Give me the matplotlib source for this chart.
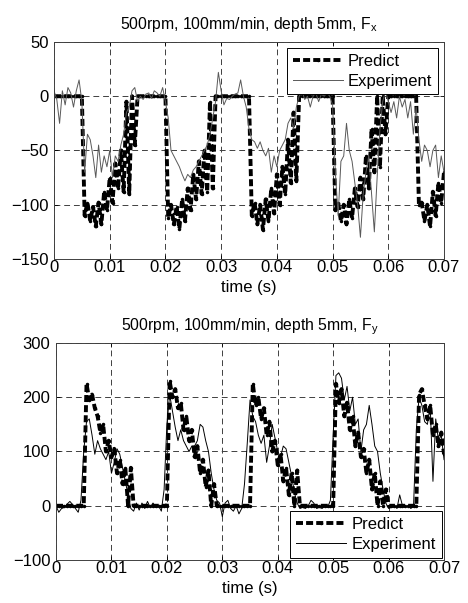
import numpy as np
import matplotlib
matplotlib.use("Agg")
import matplotlib.pyplot as plt

plt.rcParams['font.family'] = ['Liberation Sans', 'DejaVu Sans']
plt.rcParams['mathtext.default'] = 'regular'

# sample times (s), 0.5 ms spacing
time_s = np.round(np.arange(0, 141) * 0.0005, 6)

fx_predict = [
    0, 0, 0, 0, 0, 0, 0, 0, 0, 0,
    0, -110, -98, -115, -102, -120, -98, -118, -88, -105,
    -75, -98, -62, -85, -50, -88, -5, -90, 0, -45,
    0, 0, 0, 0, 0, 0, 0, 0, 0, 0,
    0, -112, -100, -118, -102, -122, -95, -115, -85, -105,
    -72, -95, -60, -90, -50, -88, -5, -85, 0, 0,
    0, 0, 0, 0, 0, 0, 0, 0, 0, 0,
    0, -110, -98, -118, -100, -123, -95, -115, -85, -108,
    -72, -100, -65, -90, -40, -80, -15, -78, 0, 0,
    0, 0, 0, 0, 0, 0, 0, 0, 0, 0,
    0, -105, -98, -115, -100, -118, -95, -112, -85, -102,
    -75, -95, -55, -85, -30, -70, 0, -65, 0, -35,
    0, 0, 0, 0, 0, 0, 0, 0, 0, 0,
    0, -100, -98, -115, -100, -120, -88, -110, -80, -98,
    -70]

fx_experiment = [
    5, -3, -25, 5, -8, 8, 3, -10, 5, 15,
    -5, -70, -35, -40, -55, -75, -45, -70, -55, -65,
    -50, -75, -55, -60, -45, -35, -15, -10, 5, 8,
    -5, 0, -3, 2, 3, -2, 5, 3, 0, 8,
    -5, -20, -50, -55, -60, -65, -72, -78, -72, -75,
    -68, -65, -60, -55, -50, -45, -35, -20, -5, 22,
    5, -8, -2, -3, 0, 2, 3, 15, 0, -10,
    -30, -40, -42, -48, -42, -50, -55, -48, -70, -55,
    -65, -50, -45, -40, -25, -20, -30, -10, 0, 5,
    -3, 0, -10, 0, 3, -5, 2, 0, 3, 0,
    -8, -70, -110, -60, -55, -25, -50, -60, -80, -100,
    -130, -90, -70, -55, -90, -125, -75, -30, -5, 5,
    -5, -15, -5, -20, 0, -10, -3, -20, -5, -35,
    -10, -40, -60, -45, -50, -65, -50, -45, -75, -55,
    -70]

fy_predict = [
    0, 0, 0, 0, 0, 0, 0, 0, 0, 0,
    0, 225, 195, 205, 180, 165, 135, 150, 100, 120,
    90, 105, 60, 85, 40, 70, 0, 70, 0, 0,
    0, 0, 0, 0, 0, 0, 0, 0, 0, 0,
    0, 230, 200, 215, 180, 190, 140, 165, 120, 140,
    90, 110, 60, 85, 35, 65, 0, 40, 0, 0,
    0, 0, 0, 0, 0, 0, 0, 0, 0, 0,
    0, 225, 185, 200, 160, 180, 130, 155, 100, 120,
    75, 95, 45, 70, 20, 60, 0, 65, 0, 0,
    0, 0, 0, 0, 0, 0, 0, 0, 0, 0,
    0, 225, 190, 215, 165, 190, 140, 165, 110, 135,
    90, 105, 60, 85, 30, 60, 0, 45, 0, 30,
    0, 0, 0, 0, 0, 0, 0, 0, 0, 0,
    0, 205, 215, 185, 160, 185, 130, 150, 110, 135,
    95]

fy_experiment = [
    0, -12, -5, -3, 3, 8, 2, -5, -12, 10,
    100, 155, 160, 130, 95, 120, 105, 95, 85, 100,
    60, 80, 105, 95, 70, 45, 20, -5, -10, 5,
    -8, 5, -5, 8, -3, 5, -3, 0, -10, 30,
    150, 205, 175, 145, 120, 140, 120, 110, 100, 110,
    110, 120, 150, 145, 120, 100, 60, 30, 10, 5,
    -20, 5, 10, -5, -10, 0, -15, -5, 40, 115,
    195, 165, 155, 130, 115, 130, 80, 110, 150, 125,
    100, 90, 110, 105, 80, 55, 25, 5, -5, -3,
    -5, 0, 10, 5, -5, -3, -5, 0, -3, 10,
    130, 240, 245, 235, 195, 220, 175, 200, 150, 160,
    100, 140, 150, 185, 150, 110, 100, 60, 30, 5,
    -5, -3, 0, -5, 20, 0, -3, 0, -5, 0,
    140, 200, 185, 155, 150, 185, 45, 160, 120, 130,
    85]

x_ticks = [0, 0.01, 0.02, 0.03, 0.04, 0.05, 0.06, 0.07]
x_tick_labels = ['0', '0.01', '0.02', '0.03', '0.04', '0.05', '0.06', '0.07']
fx_ticks = [-150, -100, -50, 0, 50]
fy_ticks = [-100, 0, 100, 200, 300]
titles = [r'500rpm, 100mm/min, depth 5mm, F$_{x}$',
          r'500rpm, 100mm/min, depth 5mm, F$_{y}$']

FS = 12

fig = plt.figure(figsize=(4.68, 6.03), dpi=100)
ax1 = fig.add_axes([0.1154, 0.5705, 0.8333, 0.3599])
ax2 = fig.add_axes([0.1197, 0.0713, 0.8291, 0.3599])

def style(ax, yt, ylim, title):
    ax.set_xlim(0, 0.07)
    ax.set_ylim(*ylim)
    ax.set_xticks(x_ticks)
    ax.set_xticklabels(x_tick_labels)
    ax.set_yticks(yt)
    ax.tick_params(direction='in', top=True, right=True, length=3, width=0.6,
                   labelsize=FS)
    ax.tick_params(axis='x', pad=1)
    ax.tick_params(axis='y', pad=4)
    for sp in ax.spines.values():
        sp.set_linewidth(0.7)
        sp.set_color('0.25')
    ax.grid(True, color='0.25', linestyle=(0, (6, 4)), linewidth=0.7)
    ax.set_axisbelow(True)
    ax.set_xlabel('time (s)', fontsize=FS, labelpad=3)
    ax.set_title(title, fontsize=11.3, pad=9)

pred_kw = dict(color='k', linewidth=2.8, linestyle=(0, (1.8, 0.8)),
               marker='.', markersize=3, label='Predict')

leg_kw = dict(fontsize=FS, fancybox=False, edgecolor='k', framealpha=1,
              handlelength=3.0, borderpad=0.35, labelspacing=0.3,
              handletextpad=0.3)

ax1.plot(time_s, fx_predict, **pred_kw)
ax1.plot(time_s, fx_experiment, color='0.35', linewidth=0.7, label='Experiment')
style(ax1, fx_ticks, (-150, 50), titles[0])
leg1 = ax1.legend(loc='upper right', borderaxespad=0.35, **leg_kw)
leg1.get_frame().set_linewidth(0.7)

ax2.plot(time_s, fy_predict, **pred_kw)
ax2.plot(time_s, fy_experiment, color='k', linewidth=0.7, label='Experiment')
style(ax2, fy_ticks, (-100, 300), titles[1])
leg2 = ax2.legend(loc='lower right', borderaxespad=0.15, **leg_kw)
leg2.get_frame().set_linewidth(0.7)

fig.savefig('out.png', dpi=100)
